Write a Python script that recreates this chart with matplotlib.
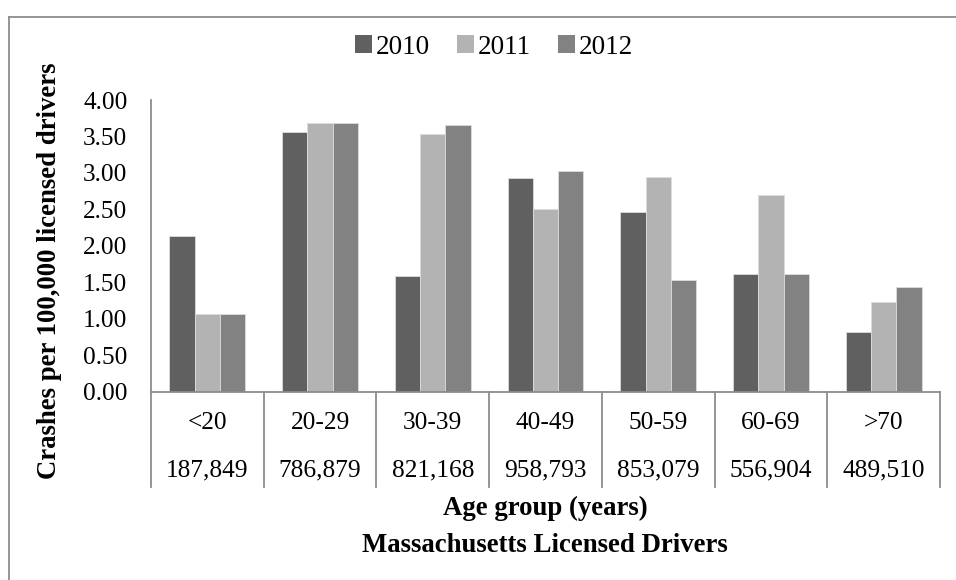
import matplotlib
matplotlib.use("Agg")
import matplotlib.pyplot as plt
import numpy as np
from matplotlib.patches import Patch
from matplotlib.lines import Line2D
import matplotlib.transforms as mtransforms

categories = ["<20", "20-29", "30-39", "40-49", "50-59", "60-69", ">70"]
drivers = ["187,849", "786,879", "821,168", "958,793", "853,079", "556,904", "489,510"]
years = ["2010", "2011", "2012"]
rate_2010 = [2.13, 3.56, 1.59, 2.93, 2.47, 1.62, 0.82]
rate_2011 = [1.07, 3.69, 3.53, 2.51, 2.94, 2.70, 1.23]
rate_2012 = [1.07, 3.69, 3.66, 3.03, 1.53, 1.62, 1.44]
yticks = [0.0, 0.5, 1.0, 1.5, 2.0, 2.5, 3.0, 3.5, 4.0]

colors = ["#606060", "#b3b3b3", "#828282"]
axis_gray = "#8c8c8c"
FONT = "Liberation Serif"
FS = 18.3

W, H = 956, 580
fig = plt.figure(figsize=(W / 100, H / 100), dpi=100)
# axes: x 151..940, y 100..391.7 (pixels from top)
ax = fig.add_axes([151 / W, (H - 391.7) / H, (940 - 151) / W, (391.7 - 100) / H])

x = np.arange(len(categories))
bw = 0.224
series = [rate_2010, rate_2011, rate_2012]
for i, (vals, c) in enumerate(zip(series, colors)):
    ax.bar(x + (i - 1) * bw, vals, width=bw, color=c, edgecolor="#dcdcdc",
           linewidth=0.6, label=years[i], zorder=2)

ax.set_xlim(-0.5, len(categories) - 0.5)
ax.set_ylim(0, 4.0)
ax.set_yticks(yticks)
ax.set_yticklabels([f"{v:.2f}" for v in yticks], fontfamily=FONT, fontsize=FS)
ax.tick_params(axis="y", length=0, pad=17)
ax.set_xticks([])
for s in ["top", "right"]:
    ax.spines[s].set_visible(False)
for s in ["left", "bottom"]:
    ax.spines[s].set_color(axis_gray)
    ax.spines[s].set_linewidth(1.3)

# table below axis
trans = mtransforms.blended_transform_factory(ax.transData, ax.transAxes)
ax_h = 391.7 - 100
def ypix(p):
    return -(p - 391.7) / ax_h

for b in np.arange(-0.5, len(categories), 1.0):
    ax.add_line(Line2D([b, b], [0, ypix(487)], transform=trans, color=axis_gray,
                       linewidth=1.3, clip_on=False))
for xi, cat, num in zip(x, categories, drivers):
    ax.text(xi, ypix(423), cat, transform=trans, ha="center", va="center",
            fontfamily=FONT, fontsize=FS)
    ax.text(xi, ypix(470), num, transform=trans, ha="center", va="center",
            fontfamily=FONT, fontsize=FS)

# axis titles
TFS = 19.3
fig.text(545 / W, (H - 508) / H, "Age group (years)", ha="center", va="center",
         fontfamily=FONT, fontsize=TFS, fontweight="bold")
fig.text(545 / W, (H - 546) / H, "Massachusetts Licensed Drivers", ha="center", va="center",
         fontfamily=FONT, fontsize=TFS, fontweight="bold")
fig.text(50 / W, (H - 271) / H, "Crashes per 100,000 licensed drivers", ha="center",
         va="center", rotation=90, fontfamily=FONT, fontsize=TFS, fontweight="bold")

# legend
handles = [Patch(facecolor=c, edgecolor="none") for c in colors]
fig.legend(handles, years, loc="center", bbox_to_anchor=(494 / W, (H - 47) / H),
           ncol=3, frameon=False, prop={"family": FONT, "size": 19.5},
           handlelength=0.62, handleheight=0.62, handletextpad=0.15, columnspacing=1.0)

# outer chart border (cropped)
fig.add_artist(Line2D([9 / W, 9 / W], [0, (H - 17) / H], transform=fig.transFigure,
                      color=axis_gray, linewidth=1.3))
fig.add_artist(Line2D([9 / W, 1], [(H - 17) / H, (H - 17) / H], transform=fig.transFigure,
                      color=axis_gray, linewidth=1.3))

fig.savefig("out.png", dpi=100, facecolor="white")
